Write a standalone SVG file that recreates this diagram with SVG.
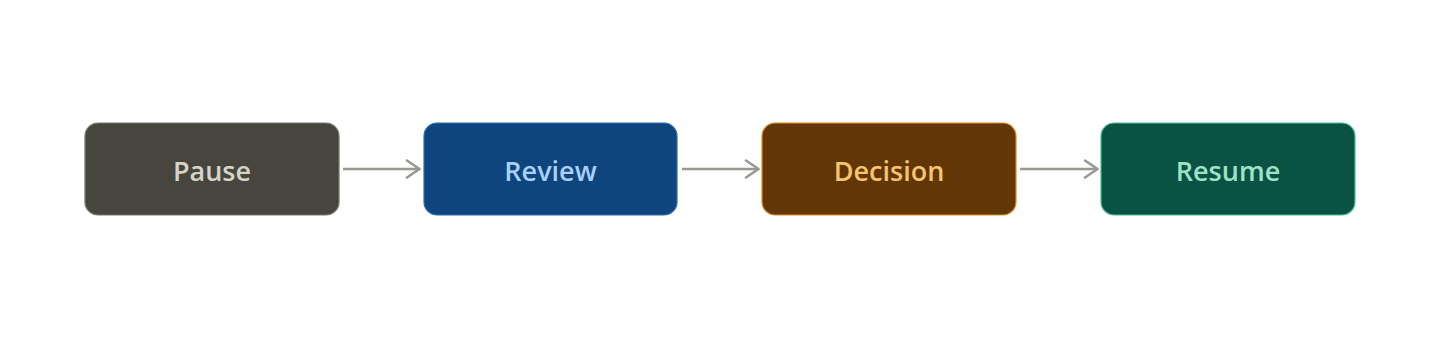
<svg xmlns="http://www.w3.org/2000/svg" width="1440" height="338" viewBox="0 0 1440 338">
<style>
.box{stroke-width:1.2}
.lbl{font-family:"Open Sans","Noto Sans",sans-serif;font-weight:600;font-size:27px;text-anchor:middle;dominant-baseline:central}
.edge{stroke:#9a9893;stroke-width:2.6;fill:none}
</style>
<defs>
<marker id="arr" viewBox="0 0 16 20" refX="15" refY="10" markerWidth="16" markerHeight="20" markerUnits="userSpaceOnUse" orient="auto">
<path d="M2,1.5 L14.5,10 L2,18.5" fill="none" stroke="#9a9893" stroke-width="2.6" stroke-linecap="round" stroke-linejoin="round"/>
</marker>
</defs>
<rect width="1440" height="338" fill="#ffffff"/>
<g id="connectors">
<line class="edge" x1="343" y1="169" x2="420" y2="169" marker-end="url(#arr)"/>
<line class="edge" x1="682" y1="169" x2="759" y2="169" marker-end="url(#arr)"/>
<line class="edge" x1="1020" y1="169" x2="1098" y2="169" marker-end="url(#arr)"/>
</g>
<g id="pause">
<rect class="box" x="85" y="123" width="254" height="92" rx="13" fill="#46463f" stroke="#77766e"/>
<text class="lbl" x="212" y="170" fill="#d6d3c8">Pause</text>
</g>
<g id="review">
<rect class="box" x="424" y="123" width="253" height="92" rx="13" fill="#0e457e" stroke="#2c6cb0"/>
<text class="lbl" x="550.5" y="170" fill="#a9d0f5">Review</text>
</g>
<g id="decision">
<rect class="box" x="762" y="123" width="254" height="92" rx="13" fill="#633608" stroke="#d9901f"/>
<text class="lbl" x="889" y="170" fill="#f5c56b">Decision</text>
</g>
<g id="resume">
<rect class="box" x="1101" y="123" width="254" height="92" rx="13" fill="#0a5244" stroke="#4fbf9a"/>
<text class="lbl" x="1228" y="170" fill="#9fe3c6">Resume</text>
</g>
</svg>
